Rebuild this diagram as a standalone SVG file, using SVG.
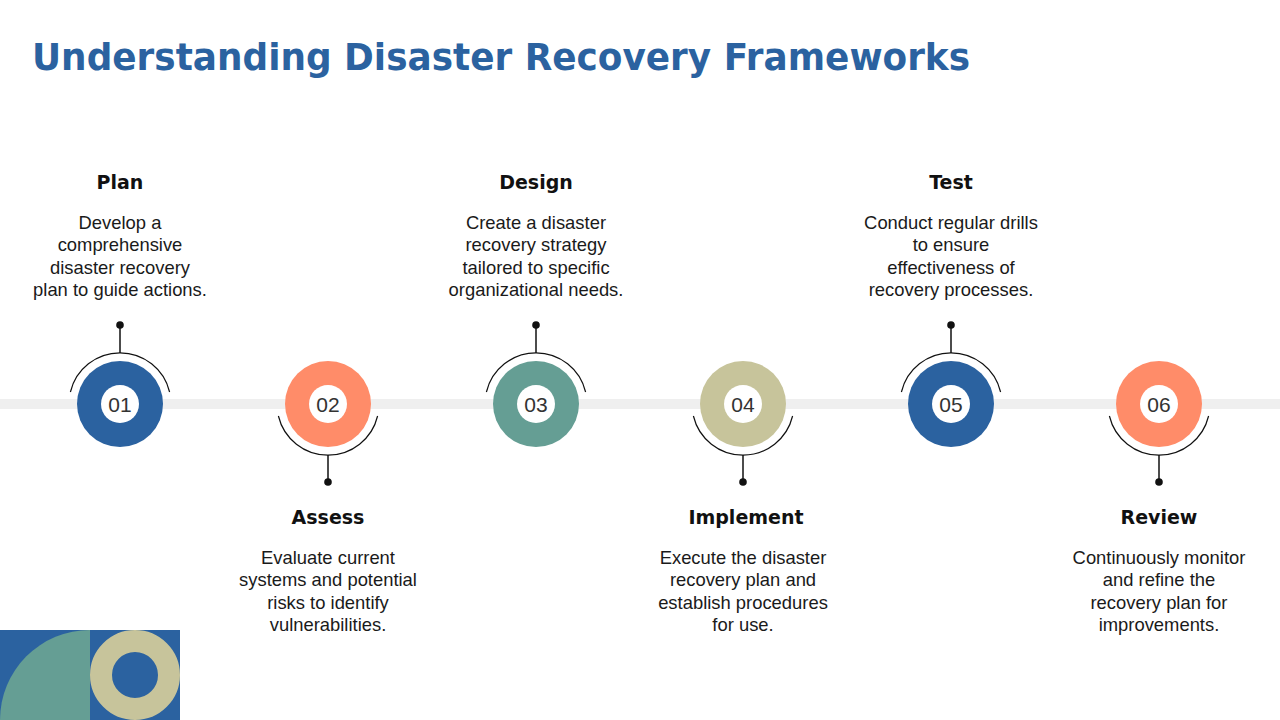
<svg xmlns="http://www.w3.org/2000/svg" width="1280" height="720" viewBox="0 0 1280 720">
<style>
.title{font-family:"DejaVu Sans","Liberation Sans",sans-serif;font-weight:bold;font-size:38px;fill:#2B62A0}
.head{font-family:"DejaVu Sans","Liberation Sans",sans-serif;font-weight:bold;font-size:19px;fill:#111;text-anchor:middle}
.body{font-family:"Liberation Sans",Arial,sans-serif;font-size:18.4px;fill:#1a1a1a;text-anchor:middle}
.num{font-family:"Liberation Sans",Arial,sans-serif;font-size:21px;fill:#333;text-anchor:middle}
.arc{fill:none;stroke:#111;stroke-width:1.2}
.stem{stroke:#111;stroke-width:1.5}
.inner{fill:#fff}
</style>
<rect width="1280" height="720" fill="#fff"/>
<text class="title" x="32" y="70" textLength="938" lengthAdjust="spacingAndGlyphs">Understanding Disaster Recovery Frameworks</text>
<rect x="0" y="399" width="1280" height="10" fill="#EFEFEF"/>
<g id="connectors">
<path class="arc" d="M70.4,392 A51,51 0 0 1 169.6,392"/>
<line class="stem" x1="120" y1="353" x2="120" y2="325"/><circle cx="120" cy="325" r="3.8" fill="#111"/>
<path class="arc" d="M278.4,416 A51,51 0 0 0 377.6,416"/>
<line class="stem" x1="328" y1="455" x2="328" y2="482"/><circle cx="328" cy="482" r="3.8" fill="#111"/>
<path class="arc" d="M486.4,392 A51,51 0 0 1 585.6,392"/>
<line class="stem" x1="536" y1="353" x2="536" y2="325"/><circle cx="536" cy="325" r="3.8" fill="#111"/>
<path class="arc" d="M693.4,416 A51,51 0 0 0 792.6,416"/>
<line class="stem" x1="743" y1="455" x2="743" y2="482"/><circle cx="743" cy="482" r="3.8" fill="#111"/>
<path class="arc" d="M901.4,392 A51,51 0 0 1 1000.6,392"/>
<line class="stem" x1="951" y1="353" x2="951" y2="325"/><circle cx="951" cy="325" r="3.8" fill="#111"/>
<path class="arc" d="M1109.4,416 A51,51 0 0 0 1208.6,416"/>
<line class="stem" x1="1159" y1="455" x2="1159" y2="482"/><circle cx="1159" cy="482" r="3.8" fill="#111"/>
</g>
<g id="step1">
<circle cx="120" cy="404" r="43" fill="#2B62A0"/><circle class="inner" cx="120" cy="404" r="19"/>
<text class="num" x="120" y="411.5">01</text>
<text class="head" x="120" y="189">Plan</text>
<text class="body" x="120" y="229">Develop a</text>
<text class="body" x="120" y="251">comprehensive</text>
<text class="body" x="120" y="274">disaster recovery</text>
<text class="body" x="120" y="296">plan to guide actions.</text>
</g>
<g id="step2">
<circle cx="328" cy="404" r="43" fill="#FF8C69"/><circle class="inner" cx="328" cy="404" r="19"/>
<text class="num" x="328" y="411.5">02</text>
<text class="head" x="328" y="524">Assess</text>
<text class="body" x="328" y="564">Evaluate current</text>
<text class="body" x="328" y="586">systems and potential</text>
<text class="body" x="328" y="609">risks to identify</text>
<text class="body" x="328" y="631">vulnerabilities.</text>
</g>
<g id="step3">
<circle cx="536" cy="404" r="43" fill="#659E94"/><circle class="inner" cx="536" cy="404" r="19"/>
<text class="num" x="536" y="411.5">03</text>
<text class="head" x="536" y="189">Design</text>
<text class="body" x="536" y="229">Create a disaster</text>
<text class="body" x="536" y="251">recovery strategy</text>
<text class="body" x="536" y="274">tailored to specific</text>
<text class="body" x="536" y="296">organizational needs.</text>
</g>
<g id="step4">
<circle cx="743" cy="404" r="43" fill="#C7C49B"/><circle class="inner" cx="743" cy="404" r="19"/>
<text class="num" x="743" y="411.5">04</text>
<text class="head" x="746" y="524">Implement</text>
<text class="body" x="743" y="564">Execute the disaster</text>
<text class="body" x="743" y="586">recovery plan and</text>
<text class="body" x="743" y="609">establish procedures</text>
<text class="body" x="743" y="631">for use.</text>
</g>
<g id="step5">
<circle cx="951" cy="404" r="43" fill="#2B62A0"/><circle class="inner" cx="951" cy="404" r="19"/>
<text class="num" x="951" y="411.5">05</text>
<text class="head" x="951" y="189">Test</text>
<text class="body" x="951" y="229">Conduct regular drills</text>
<text class="body" x="951" y="251">to ensure</text>
<text class="body" x="951" y="274">effectiveness of</text>
<text class="body" x="951" y="296">recovery processes.</text>
</g>
<g id="step6">
<circle cx="1159" cy="404" r="43" fill="#FF8C69"/><circle class="inner" cx="1159" cy="404" r="19"/>
<text class="num" x="1159" y="411.5">06</text>
<text class="head" x="1159" y="524">Review</text>
<text class="body" x="1159" y="564">Continuously monitor</text>
<text class="body" x="1159" y="586">and refine the</text>
<text class="body" x="1159" y="609">recovery plan for</text>
<text class="body" x="1159" y="631">improvements.</text>
</g>
<g id="decoration">
<rect x="0" y="630" width="180" height="90" fill="#2B62A0"/>
<path d="M0,720 A90,90 0 0 1 90,630 L90,720 Z" fill="#659E94"/>
<circle cx="135" cy="675" r="34" fill="none" stroke="#C7C49B" stroke-width="22"/>
</g>
</svg>
